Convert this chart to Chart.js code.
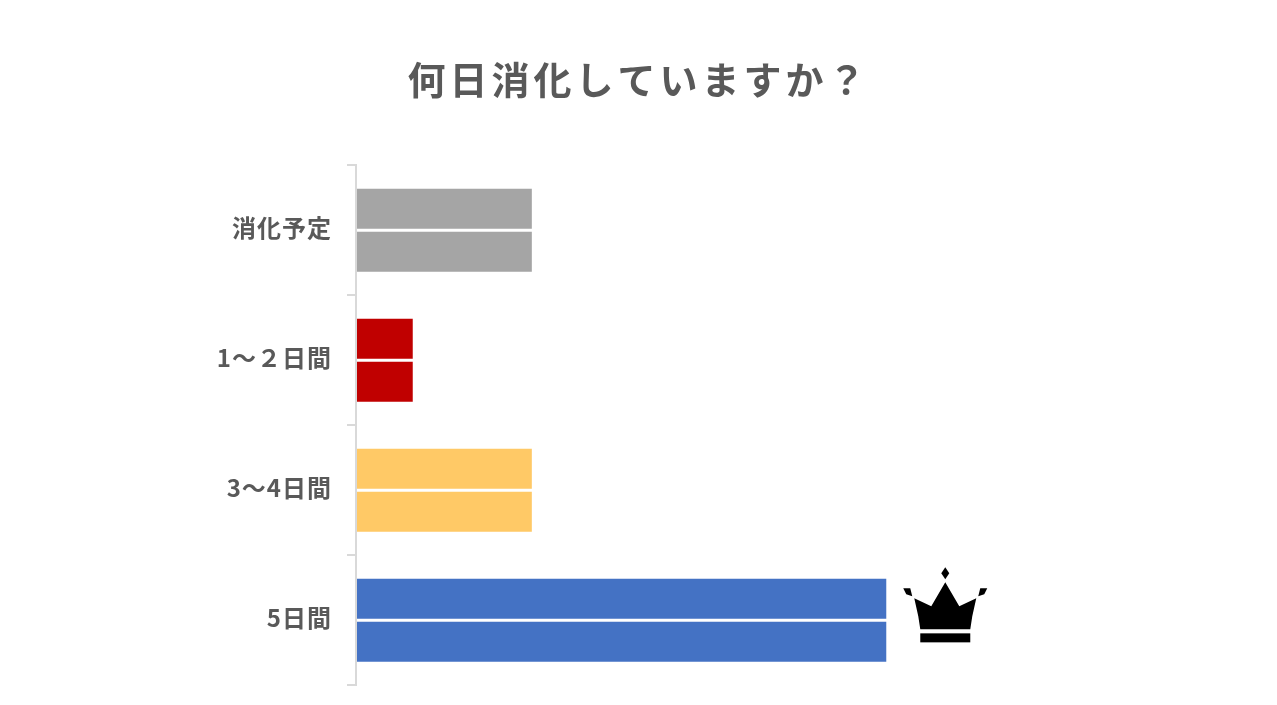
<!DOCTYPE html>
<html lang="ja">
<head>
<meta charset="utf-8">
<title>何日消化していますか？</title>
<script src="https://cdn.jsdelivr.net/npm/chart.js@4/dist/chart.umd.min.js"></script>
<style>
  html, body { margin: 0; background: #fff; }
  canvas { display: block; }
</style>
</head>
<body>
<canvas id="daysChart" width="1277" height="705"></canvas>
<script>
const titleText = "何日消化していますか？";
const categories = ["消化予定", "1～２日間", "3～4日間", "5日間"];
const values = [18.9, 6.1, 18.9, 57];
const barColors = ["#a5a5a5", "#c00000", "#ffc966", "#4472c4"];
const winnerIndex = 3;
const fontFamily = '"Noto Sans CJK JP", "Noto Sans", sans-serif';

// the original text is set wider than the font's own advance
const spacingPlugin = {
    id: "spacing",
    beforeDraw(chart) {
        const ctx = chart.ctx;
        const title = chart.titleBlock;
        if (!title.spaced) {
            const drawTitle = title.draw.bind(title);
            title.draw = () => {
                ctx.save();
                ctx.letterSpacing = "4px";
                drawTitle();
                ctx.restore();
            };
            title.spaced = true;
        }
        ctx.letterSpacing = "1px";
    },
};

// crown next to the winning bar, placed from the bar itself
const crownPlugin = {
    id: "crown",
    afterDatasetsDraw(chart) {
        const scale = chart.scales.x;
        const cx = scale.getPixelForValue(values[winnerIndex]) + 59;
        const cy = chart.scales.y.getPixelForValue(winnerIndex);
        const ctx = chart.ctx;
        const shape = (pts) => {
            ctx.beginPath();
            pts.forEach((p, i) => i ? ctx.lineTo(cx + p[0], cy + p[1]) : ctx.moveTo(cx + p[0], cy + p[1]));
            ctx.closePath();
            ctx.fill();
        };
        ctx.save();
        ctx.fillStyle = "#000";
        shape([[-25, 9], [-27, -4], [-31, -22], [-14, -14], [0, -38], [14, -14], [31, -22], [27, -4], [25, 9]]);
        ctx.fillRect(cx - 25, cy + 13, 50, 9);
        shape([[0, -53], [4, -47], [0, -41], [-4, -47]]);
        shape([[-42, -32], [-35, -32], [-33, -24], [-39, -26]]);
        shape([[42, -32], [35, -32], [33, -24], [39, -26]]);
        ctx.restore();
    },
};

new Chart(document.getElementById("daysChart"), {
    type: "bar",
    data: {
        labels: categories,
        datasets: [
            { data: values, backgroundColor: barColors },
            { data: values, backgroundColor: barColors },
        ],
    },
    options: {
        indexAxis: "y",
        responsive: false,
        animation: false,
        categoryPercentage: 0.6615,
        barPercentage: 0.93,
        layout: { padding: { left: 0, right: 0, top: 0, bottom: 19.65 } },
        plugins: {
            legend: { display: false },
            tooltip: { enabled: false },
            title: {
                display: true,
                text: titleText,
                color: "#595959",
                font: { family: fontFamily, size: 38, weight: "bold" },
                padding: { top: 57, bottom: 62.75 },
            },
        },
        scales: {
            x: { display: false, min: 0, max: 99 },
            y: {
                afterFit(scale) {
                    scale.width = 356;
                    scale.paddingTop = 0;
                    scale.paddingBottom = 0;
                },
                border: { color: "#d9d9d9", width: 2, z: 1 },
                grid: {
                    offset: true,
                    drawOnChartArea: false,
                    color: "#d9d9d9",
                    lineWidth: 2,
                    tickLength: 9,
                },
                ticks: {
                    color: "#595959",
                    padding: 15,
                    labelOffset: -2,
                    font: { family: fontFamily, size: 24, weight: "bold" },
                },
            },
        },
    },
    plugins: [spacingPlugin, crownPlugin],
});
</script>
</body>
</html>
